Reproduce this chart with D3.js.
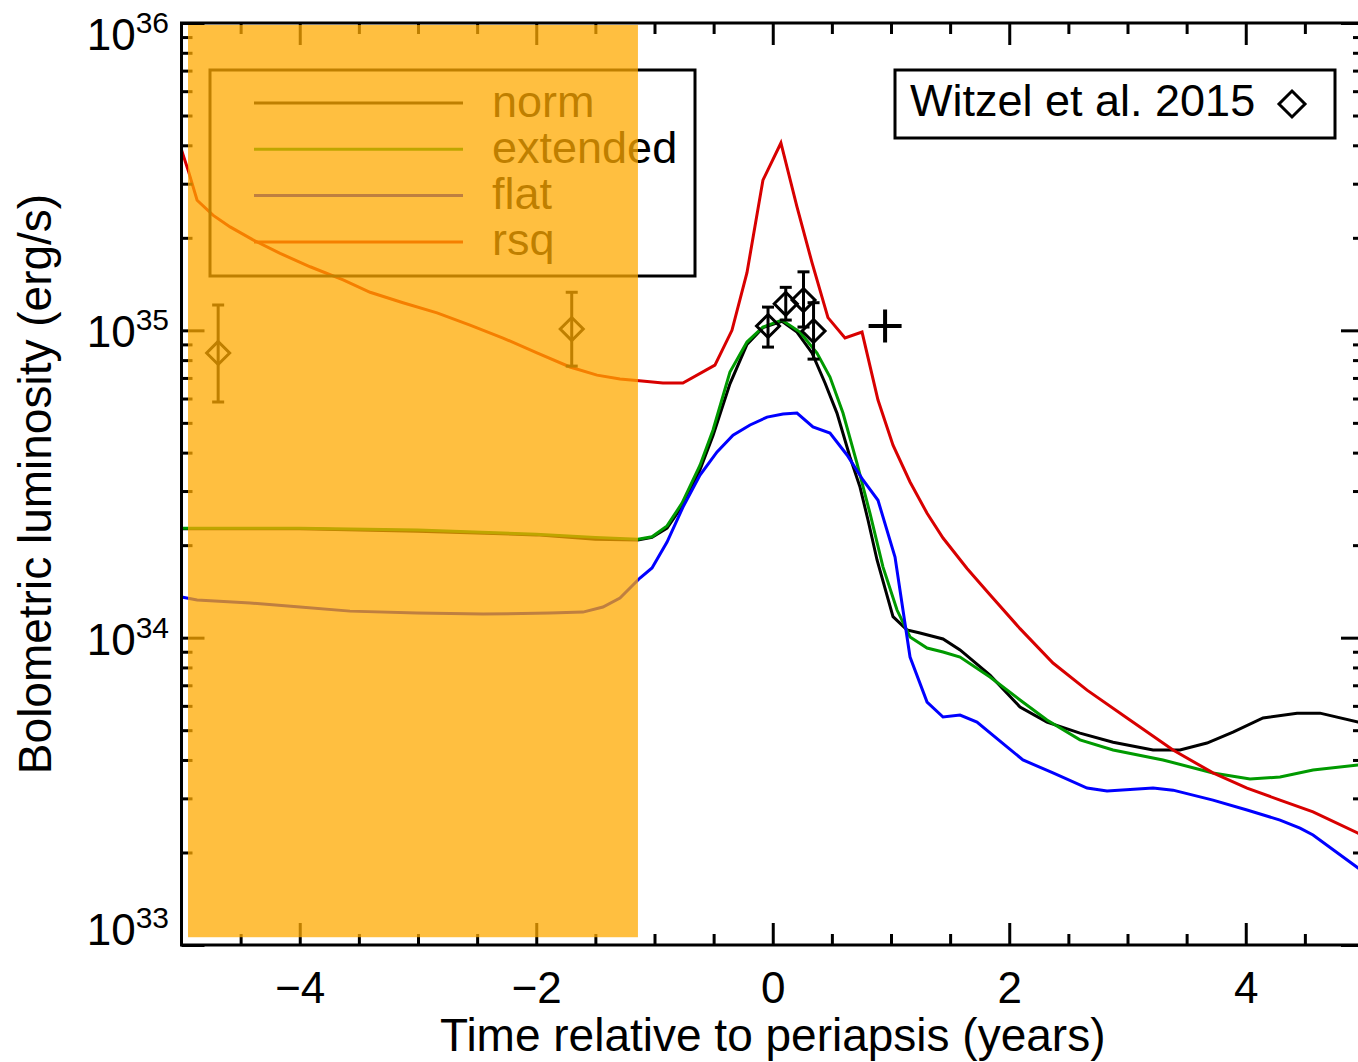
<!DOCTYPE html>
<html>
<head>
<meta charset="utf-8">
<script src="https://cdn.jsdelivr.net/npm/d3@7"></script>
<style>
  body { margin: 0; background: #fff; }
  svg { display: block; }
  text { font-family: "Liberation Sans", Arial, Helvetica, sans-serif; fill: #000; }
</style>
</head>
<body>
<svg id="chart" width="1358" height="1062"></svg>
<script>
// Model light curves: [time relative to periapsis (yr), bolometric luminosity (erg/s)]
const norm = [
  [-5.0, 2.26e34], [-4.0, 2.26e34], [-3.0, 2.22e34], [-2.0, 2.16e34], [-1.5, 2.09e34],
  [-1.14, 2.08e34], [-1.021, 2.12e34], [-0.894, 2.27e34], [-0.767, 2.68e34], [-0.615, 3.52e34],
  [-0.505, 4.55e34], [-0.362, 6.7e34], [-0.218, 9.0e34], [-0.083, 1.02e35], [0.078, 1.07e35],
  [0.205, 9.87e34], [0.332, 8.44e34], [0.442, 6.74e34], [0.543, 5.38e34], [0.653, 3.87e34],
  [0.738, 3.09e34], [0.806, 2.41e34], [0.882, 1.79e34], [1.017, 1.17e34], [1.135, 1.06e34],
  [1.245, 1.035e34], [1.440, 9.9e33], [1.584, 9.12e33], [1.837, 7.55e33], [2.091, 5.95e33],
  [2.319, 5.31e33], [2.598, 4.89e33], [2.878, 4.57e33], [3.216, 4.31e33], [3.444, 4.31e33],
  [3.672, 4.54e33], [3.892, 4.93e33], [4.146, 5.48e33], [4.434, 5.68e33], [4.628, 5.68e33],
  [4.950, 5.31e33], [5.0, 5.24e33]
];
const extended = [
  [-5.0, 2.27e34], [-4.0, 2.27e34], [-3.0, 2.24e34], [-2.0, 2.17e34], [-1.5, 2.12e34],
  [-1.14, 2.09e34], [-1.021, 2.13e34], [-0.894, 2.31e34], [-0.767, 2.74e34], [-0.615, 3.64e34],
  [-0.505, 4.74e34], [-0.362, 7.32e34], [-0.218, 9.16e34], [-0.083, 1.025e35], [0.078, 1.08e35],
  [0.230, 9.87e34], [0.374, 8.44e34], [0.484, 7.05e34], [0.594, 5.38e34], [0.712, 3.70e34],
  [0.822, 2.54e34], [0.932, 1.70e34], [1.051, 1.23e34], [1.161, 1.005e34], [1.305, 9.25e33],
  [1.440, 8.98e33], [1.584, 8.65e33], [1.837, 7.45e33], [2.091, 6.27e33], [2.319, 5.40e33],
  [2.598, 4.65e33], [2.878, 4.31e33], [3.300, 4.00e33], [3.723, 3.63e33], [4.036, 3.47e33],
  [4.290, 3.52e33], [4.569, 3.71e33], [4.950, 3.85e33], [5.0, 3.86e33]
];
const flat = [
  [-5.0, 1.356e34], [-4.868, 1.326e34], [-4.420, 1.297e34], [-3.998, 1.258e34], [-3.575, 1.22e34],
  [-3.008, 1.202e34], [-2.450, 1.193e34], [-1.884, 1.202e34], [-1.605, 1.211e34], [-1.436, 1.258e34],
  [-1.292, 1.346e34], [-1.123, 1.563e34], [-1.021, 1.685e34], [-0.894, 2.047e34], [-0.759, 2.66e34],
  [-0.615, 3.38e34], [-0.471, 4.02e34], [-0.336, 4.56e34], [-0.192, 4.92e34], [-0.048, 5.22e34],
  [0.087, 5.34e34], [0.205, 5.38e34], [0.340, 4.85e34], [0.484, 4.63e34], [0.628, 3.93e34],
  [0.763, 3.26e34], [0.890, 2.80e34], [1.034, 1.83e34], [1.161, 8.65e33], [1.305, 6.17e33],
  [1.440, 5.52e33], [1.584, 5.60e33], [1.727, 5.31e33], [1.981, 4.41e33], [2.116, 4.00e33],
  [2.370, 3.63e33], [2.658, 3.24e33], [2.827, 3.17e33], [3.216, 3.24e33], [3.385, 3.19e33],
  [3.723, 2.96e33], [4.011, 2.75e33], [4.290, 2.55e33], [4.459, 2.40e33], [4.569, 2.28e33],
  [4.950, 1.78e33], [5.0, 1.72e33]
];
const rsq = [
  [-5.0, 3.86e35], [-4.944, 3.32e35], [-4.868, 2.65e35], [-4.734, 2.37e35], [-4.589, 2.17e35],
  [-4.395, 1.97e35], [-4.166, 1.78e35], [-3.912, 1.61e35], [-3.633, 1.46e35], [-3.405, 1.33e35],
  [-3.127, 1.23e35], [-2.839, 1.14e35], [-2.560, 1.04e35], [-2.281, 9.44e34], [-1.994, 8.44e34],
  [-1.715, 7.60e34], [-1.486, 7.15e34], [-1.292, 6.94e34], [-1.106, 6.84e34], [-0.929, 6.74e34],
  [-0.760, 6.74e34], [-0.489, 7.71e34], [-0.345, 1.00e35], [-0.218, 1.54e35], [-0.083, 3.08e35],
  [0.069, 4.07e35], [0.205, 2.52e35], [0.332, 1.66e35], [0.467, 1.10e35], [0.611, 9.44e34],
  [0.755, 9.87e34], [0.890, 5.93e34], [1.017, 4.23e34], [1.161, 3.21e34], [1.305, 2.54e34],
  [1.440, 2.11e34], [1.643, 1.68e34], [1.837, 1.38e34], [2.091, 1.07e34], [2.370, 8.27e33],
  [2.658, 6.75e33], [2.996, 5.48e33], [3.385, 4.31e33], [3.723, 3.63e33], [4.011, 3.24e33],
  [4.290, 2.96e33], [4.569, 2.71e33], [4.950, 2.31e33], [5.0, 2.26e33]
];

// Witzel et al. (2015) photometry with error bars
const obsT  = [-4.69, -1.70, -0.04, 0.11, 0.26, 0.345];
const obsL  = [8.44e34, 1.01e35, 1.033e35, 1.22e35, 1.255e35, 9.95e34];
const obsHi = [1.21e35, 1.33e35, 1.19e35, 1.38e35, 1.55e35, 1.23e35];
const obsLo = [5.84e34, 7.65e34, 8.82e34, 1.08e35, 1.025e35, 8.06e34];

// single point marked with a cross
const crossPoint = [0.95, 1.033e35];

// shaded interval (time span and luminosity span)
const shadeT = [-4.945, -1.14];
const shadeL = [1.06e33, 9.85e35];

const seriesNames  = ["norm", "extended", "flat", "rsq"];
const seriesData   = [norm, extended, flat, rsq];
const seriesColors = ["#000000", "#009a00", "#0000ff", "#d80000"];

const xMajorTicks = [-4, -2, 0, 2, 4];
const xMinorTicks = d3.range(-4.5, 4.51, 0.5).filter(v => !xMajorTicks.includes(v));
const yMajorTicks = [1e33, 1e34, 1e35, 1e36];
const yMinorTicks = [1e33, 1e34, 1e35].flatMap(d => d3.range(2, 10).map(k => k * d));
const yTickExponents = ["33", "34", "35", "36"];

const xTitle = "Time relative to periapsis (years)";
const yTitle = "Bolometric luminosity (erg/s)";
const obsLabel = "Witzel et al. 2015";

// ---------------------------------------------------------------
const svg = d3.select("#chart");
const pLeft = 181.5, pRight = 1364, pTop = 23, pBottom = 945;

const x = d3.scaleLinear().domain([-5, 5]).range([pLeft, pRight]);
const y = d3.scaleLog().domain([1e33, 1e36]).range([pBottom, pTop]);

svg.append("defs").append("clipPath").attr("id", "plotClip")
  .append("rect").attr("x", pLeft).attr("y", pTop)
  .attr("width", pRight - pLeft).attr("height", pBottom - pTop);

const plot = svg.append("g").attr("clip-path", "url(#plotClip)");

const line = d3.line().x(d => x(d[0])).y(d => y(d[1]));

seriesData.forEach((s, i) => {
  plot.append("path").datum(s)
    .attr("d", line)
    .attr("fill", "none")
    .attr("stroke", seriesColors[i])
    .attr("stroke-width", 3)
    .attr("stroke-linejoin", "miter");
});

// observations: diamonds with capped error bars
const obs = plot.append("g").attr("stroke", "#000").attr("fill", "none").attr("stroke-width", 3);
const dHalf = 11.5, capHalf = 6;
obsT.forEach((t, i) => {
  const cx = x(t), cy = y(obsL[i]), yh = y(obsHi[i]), yl = y(obsLo[i]);
  obs.append("line").attr("x1", cx).attr("x2", cx).attr("y1", yh).attr("y2", yl);
  obs.append("line").attr("x1", cx - capHalf).attr("x2", cx + capHalf).attr("y1", yh).attr("y2", yh);
  obs.append("line").attr("x1", cx - capHalf).attr("x2", cx + capHalf).attr("y1", yl).attr("y2", yl);
  obs.append("path").attr("d",
    `M${cx},${cy - dHalf}L${cx + dHalf},${cy}L${cx},${cy + dHalf}L${cx - dHalf},${cy}Z`);
});

// cross marker
{
  const cx = x(crossPoint[0]), cy = y(crossPoint[1]), h = 16.5;
  plot.append("path")
    .attr("d", `M${cx - h},${cy}H${cx + h}M${cx},${cy - h}V${cy + h}`)
    .attr("stroke", "#000").attr("stroke-width", 4).attr("fill", "none");
}

// ---------------------------------------------------------------
// legends
const legend = svg.append("g");
legend.append("rect").attr("x", 210).attr("y", 70).attr("width", 485).attr("height", 206)
  .attr("fill", "none").attr("stroke", "#000").attr("stroke-width", 3);
seriesNames.forEach((name, i) => {
  const ly = 103 + i * 46.3;
  legend.append("line").attr("x1", 254).attr("x2", 463).attr("y1", ly).attr("y2", ly)
    .attr("stroke", seriesColors[i]).attr("stroke-width", 3);
  legend.append("text").attr("x", 492).attr("y", ly + 13.5)
    .attr("font-size", 45).text(name);
});

const obsLegend = svg.append("g");
obsLegend.append("rect").attr("x", 895).attr("y", 70).attr("width", 440).attr("height", 68)
  .attr("fill", "#fff").attr("stroke", "#000").attr("stroke-width", 3);
obsLegend.append("text").attr("x", 910).attr("y", 116).attr("font-size", 45).text(obsLabel);
{
  const cx = 1292, cy = 104, h = 13;
  obsLegend.append("path")
    .attr("d", `M${cx},${cy - h}L${cx + h},${cy}L${cx},${cy + h}L${cx - h},${cy}Z`)
    .attr("fill", "none").attr("stroke", "#000").attr("stroke-width", 3);
}

// ---------------------------------------------------------------
// axes: inward ticks on all four sides
function styleTicks(g) {
  g.select(".domain").remove();
  g.selectAll("line").attr("stroke", "#000").attr("stroke-width", 3);
}
const axes = svg.append("g");
axes.append("g").attr("transform", `translate(0,${pBottom})`)
  .call(d3.axisBottom(x).tickValues(xMajorTicks).tickSize(-22).tickFormat("")).call(styleTicks);
axes.append("g").attr("transform", `translate(0,${pBottom})`)
  .call(d3.axisBottom(x).tickValues(xMinorTicks).tickSize(-11).tickFormat("")).call(styleTicks);
axes.append("g").attr("transform", `translate(0,${pTop})`)
  .call(d3.axisTop(x).tickValues(xMajorTicks).tickSize(-22).tickFormat("")).call(styleTicks);
axes.append("g").attr("transform", `translate(0,${pTop})`)
  .call(d3.axisTop(x).tickValues(xMinorTicks).tickSize(-11).tickFormat("")).call(styleTicks);
axes.append("g").attr("transform", `translate(${pLeft},0)`)
  .call(d3.axisLeft(y).tickValues(yMajorTicks).tickSize(-23).tickFormat("")).call(styleTicks);
axes.append("g").attr("transform", `translate(${pLeft},0)`)
  .call(d3.axisLeft(y).tickValues(yMinorTicks).tickSize(-11).tickFormat("")).call(styleTicks);
axes.append("g").attr("transform", `translate(${pRight},0)`)
  .call(d3.axisRight(y).tickValues(yMajorTicks).tickSize(-23).tickFormat("")).call(styleTicks);
axes.append("g").attr("transform", `translate(${pRight},0)`)
  .call(d3.axisRight(y).tickValues(yMinorTicks).tickSize(-11).tickFormat("")).call(styleTicks);

axes.append("rect").attr("x", pLeft).attr("y", pTop)
  .attr("width", pRight - pLeft).attr("height", pBottom - pTop)
  .attr("fill", "none").attr("stroke", "#000").attr("stroke-width", 3);

// x tick labels
const xLab = axes.append("g").attr("transform", `translate(0,${pBottom})`)
  .call(d3.axisBottom(x).tickValues(xMajorTicks).tickSize(0)
    .tickFormat(d => d < 0 ? "\u2212" + Math.abs(d) : String(d)));
xLab.select(".domain").remove();
xLab.attr("font-family", null).attr("font-size", null);
xLab.selectAll("text").attr("y", 58).attr("dy", 0)
  .attr("font-size", 44).attr("fill", "#000");

// y tick labels: 10 with exponent, held inside the frame's vertical extent
yMajorTicks.forEach((v, i) => {
  const base = Math.max(pTop + 27, Math.min(pBottom, y(v) + 17));
  const t = axes.append("text").attr("x", 169).attr("y", base)
    .attr("text-anchor", "end").attr("font-size", 44);
  t.append("tspan").text("10");
  t.append("tspan").attr("font-size", 30).attr("dy", -17).text(yTickExponents[i]);
});

// axis titles
svg.append("text").attr("x", (pLeft + pRight) / 2).attr("y", 1051)
  .attr("text-anchor", "middle").attr("font-size", 46).text(xTitle);
svg.append("text")
  .attr("transform", `translate(51,${(pTop + pBottom) / 2}) rotate(-90)`)
  .attr("text-anchor", "middle").attr("font-size", 46).text(yTitle);

// ---------------------------------------------------------------
// translucent shaded band drawn over everything
svg.append("rect")
  .attr("x", x(shadeT[0])).attr("y", y(shadeL[1]))
  .attr("width", x(shadeT[1]) - x(shadeT[0]))
  .attr("height", y(shadeL[0]) - y(shadeL[1]))
  .attr("fill", "rgb(255,170,0)").attr("fill-opacity", 0.75);
</script>
</body>
</html>
